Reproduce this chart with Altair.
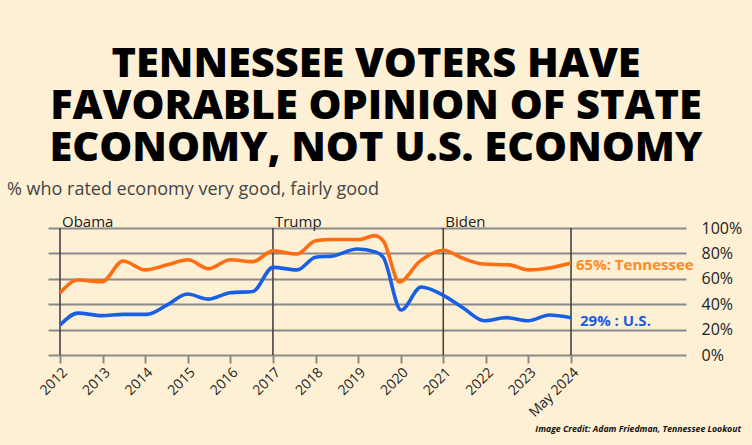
import altair as alt
import pandas as pd

# ---- data ----
tn_years = [2012.0, 2012.42, 2012.99, 2013.48, 2014.0, 2014.52, 2015.01, 2015.48, 2016.0, 2016.53,
            2017.0, 2017.57, 2018.0, 2018.41, 2019.05, 2019.38, 2019.59, 2019.97, 2020.44, 2021.0,
            2021.47, 2021.94, 2022.55, 2023.0, 2023.49, 2024.0]
tn_values = [49, 59, 57.7, 74, 67, 71, 75, 68, 75, 73.5,
             82, 79.5, 90, 91, 91, 94, 90, 57.5, 73.5, 82.5,
             76, 71.6, 71, 67, 68.5, 72.4]

us_years = [2012.0, 2012.42, 2012.99, 2013.48, 2014.04, 2014.5, 2014.99, 2015.48, 2016.0, 2016.53,
            2017.0, 2017.57, 2018.0, 2018.41, 2018.98, 2019.42, 2019.59, 2020.01, 2020.48, 2021.0,
            2021.47, 2021.96, 2022.48, 2023.0, 2023.49, 2024.0]
us_values = [23.6, 33, 31, 32, 32, 39, 48, 44, 49, 50,
             69, 67, 77, 78, 83.5, 81, 77, 35.4, 53.5, 47,
             37, 27, 29.4, 27, 31.5, 29.4]

presidents = ["Obama", "Trump", "Biden"]
president_start = [2012, 2017, 2021]
divider_years = [2012, 2017, 2021, 2024]

tick_years = list(range(2012, 2025))
y_ticks = [0, 20, 40, 60, 80, 100]

end_labels = ["65%: Tennessee", "29% : U.S."]
end_series = ["Tennessee", "U.S."]

title_lines = ["TENNESSEE VOTERS HAVE", "FAVORABLE OPINION OF STATE", "ECONOMY, NOT U.S. ECONOMY"]
subtitle = "% who rated economy very good, fairly good"
credit = "Image Credit: Adam Friedman, Tennessee Lookout"

ORANGE = "#FF6D12"
ORANGE_TXT = "#FF8A1F"
BLUE = "#1760E6"
BLUE_TXT = "#1A5CDB"
BG = "#FEF0D5"
FONT = "Open Sans"

lines_df = pd.concat([
    pd.DataFrame({"year": tn_years, "value": tn_values, "series": "Tennessee"}),
    pd.DataFrame({"year": us_years, "value": us_values, "series": "U.S."}),
])
pres_df = pd.DataFrame({"name": presidents, "year": president_start, "value": 100})
div_df = pd.DataFrame({"year": divider_years, "value": 0, "y1": 100})
end_df = pd.DataFrame({
    "label": end_labels,
    "series": end_series,
    "year": [tn_years[-1], us_years[-1]],
    "value": [tn_values[-1], us_values[-1]],
})

xscale = alt.Scale(domain=[2011.718, 2026.70], nice=False, zero=False)
yscale = alt.Scale(domain=[0, 100], nice=False)

x_axis = alt.Axis(values=tick_years, labelExpr="datum.value == 2024 ? 'May 2024' : '' + datum.value",
                  labelAngle=-45, labelFontSize=14, labelColor="#222", labelFont=FONT,
                  tickColor="#8a8a8a", tickWidth=2, tickSize=8, domain=False, grid=False,
                  title=None, labelPadding=2, labelOverlap=False, labelFlush=False)
y_axis = alt.Axis(orient="right", values=y_ticks, labelExpr="datum.value + '%'",
                  labelFontSize=16, labelColor="#222", labelFont=FONT, ticks=False,
                  domain=False, grid=True, gridColor="#8a8a8a", gridWidth=2,
                  labelPadding=15, title=None, labelOverlap=False, labelFlush=False)

X = alt.X("year:Q", scale=xscale, axis=x_axis, title=None)
Y = alt.Y("value:Q", scale=yscale, axis=y_axis, title=None)

dividers = alt.Chart(div_df).mark_rule(color="#444", strokeWidth=1.6).encode(
    x=X, y=Y, y2="y1:Q",
)

lines = alt.Chart(lines_df).mark_line(strokeWidth=3.6, interpolate="monotone").encode(
    x=X, y=Y,
    color=alt.Color("series:N", scale=alt.Scale(domain=end_series, range=[ORANGE, BLUE]), legend=None),
)

pres = alt.Chart(pres_df).mark_text(align="left", baseline="alphabetic", dx=2, dy=-1,
                                    fontSize=15, font=FONT, color="#222").encode(
    x=X, y=Y, text="name:N",
)

end_tn = alt.Chart(end_df).transform_filter(alt.datum.series == "Tennessee").mark_text(
    align="left", baseline="middle", fontSize=15, fontWeight="bold", font=FONT,
    color=ORANGE_TXT, dx=5, dy=2
).encode(x=X, y=Y, text="label:N")

end_us = alt.Chart(end_df).transform_filter(alt.datum.series == "U.S.").mark_text(
    align="left", baseline="middle", fontSize=15, fontWeight="bold", font=FONT,
    color=BLUE_TXT, dx=9, dy=3
).encode(x=X, y=Y, text="label:N")

title = alt.Chart(pd.DataFrame({"k": [0]})).mark_text(
    align="center", baseline="alphabetic", fontSize=41.5, fontWeight=800, font=FONT, color="#000",
    lineHeight=41.8
).encode(x=alt.value(328), y=alt.value(-151), text=alt.value(title_lines))

sub = alt.Chart(pd.DataFrame({"t": [subtitle]})).mark_text(
    align="left", baseline="alphabetic", fontSize=18, font=FONT, color="#444"
).encode(x=alt.value(-41), y=alt.value(-33), text="t:N")

cred = alt.Chart(pd.DataFrame({"t": [credit]})).mark_text(
    align="right", baseline="middle", fontSize=8.7, fontWeight="bold", fontStyle="italic",
    font=FONT, color="#111"
).encode(x=alt.value(693), y=alt.value(201), text="t:N")

chart = alt.layer(dividers, lines, pres, end_tn, end_us, sub, cred, title).properties(
    width=638, height=127,
    autosize=alt.AutoSizeParams(type="none"),
    padding={"left": 48, "top": 228, "right": 66, "bottom": 90},
    background=BG,
).configure_view(stroke=None)

chart.save("out.html", embed_options={"renderer": "svg", "actions": False})
